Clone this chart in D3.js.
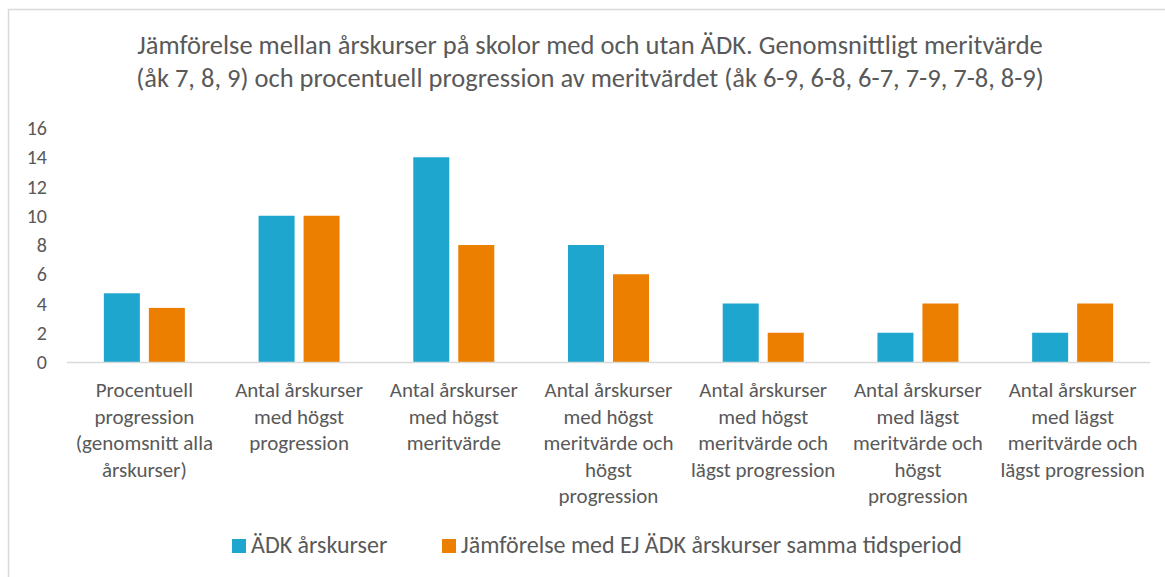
<!DOCTYPE html>
<html>
<head>
<meta charset="utf-8">
<script src="https://cdn.jsdelivr.net/npm/d3@7"></script>
<style>
  body { margin: 0; background: #fff; }
  svg text { font-family: Carlito, Calibri, "Liberation Sans", sans-serif; fill: #595959; }
</style>
</head>
<body>
<svg id="chart" width="1165" height="577"></svg>
<script>
// data
const categories = [
  ["Procentuell", "progression", "(genomsnitt alla", "årskurser)"],
  ["Antal årskurser", "med högst", "progression"],
  ["Antal årskurser", "med högst", "meritvärde"],
  ["Antal årskurser", "med högst", "meritvärde och", "högst", "progression"],
  ["Antal årskurser", "med högst", "meritvärde och", "lägst progression"],
  ["Antal årskurser", "med lägst", "meritvärde och", "högst", "progression"],
  ["Antal årskurser", "med lägst", "meritvärde och", "lägst progression"]
];
const seriesNames = ["ÄDK årskurser", "Jämförelse med EJ ÄDK årskurser samma tidsperiod"];
const adkValues = [4.7, 10, 14, 8, 4, 2, 2];
const ejAdkValues = [3.7, 10, 8, 6, 2, 4, 4];
const yTicks = [0, 2, 4, 6, 8, 10, 12, 14, 16];
const titleLines = [
  "Jämförelse mellan årskurser på skolor med och utan ÄDK. Genomsnittligt meritvärde",
  "(åk 7, 8, 9) och procentuell progression av meritvärdet (åk 6-9, 6-8, 6-7, 7-9, 7-8, 8-9)"
];

const colors = ["#1fa6cf", "#ed7f00"];
const svg = d3.select("#chart");

// chart area border (only top and left visible in the crop)
svg.append("path")
  .attr("d", "M8.5,577V9.5H1165")
  .attr("fill", "none").attr("stroke", "#d9d9d9").attr("stroke-width", 1.5);

const plotLeft = 67, plotRight = 1150, plotTop = 128, plotBottom = 362;

const x = d3.scaleBand()
  .domain(d3.range(categories.length))
  .range([plotLeft, plotRight]);

const x1 = d3.scaleBand()
  .domain([0, 1])
  .range([0, 81])
  .paddingInner(0.2);

const y = d3.scaleLinear().domain([0, 16]).range([plotBottom, plotTop]);

// title
svg.append("g").selectAll("text")
  .data(titleLines)
  .join("text")
  .attr("x", 590)
  .attr("y", (d, i) => 54 + i * 33)
  .attr("text-anchor", "middle")
  .style("font-size", "26.5px")
  .text(d => d);

// y axis labels
svg.append("g").selectAll("text")
  .data(yTicks)
  .join("text")
  .attr("x", 47)
  .attr("y", d => y(d) + 7)
  .attr("text-anchor", "end")
  .style("font-size", "20px")
  .text(d => d);

// bars
const groups = svg.append("g").selectAll("g")
  .data(categories.map((c, i) => [adkValues[i], ejAdkValues[i]]))
  .join("g")
  .attr("transform", (d, i) => `translate(${x(i) + (x.bandwidth() - 81) / 2},0)`);

groups.selectAll("rect")
  .data(d => d)
  .join("rect")
  .attr("x", (d, j) => x1(j))
  .attr("width", x1.bandwidth())
  .attr("y", d => y(d))
  .attr("height", d => plotBottom - y(d))
  .attr("fill", (d, j) => colors[j]);

// baseline
svg.append("line")
  .attr("x1", plotLeft).attr("x2", plotRight)
  .attr("y1", plotBottom + 0.5).attr("y2", plotBottom + 0.5)
  .attr("stroke", "#d9d9d9").attr("stroke-width", 1.5);

// category labels
svg.append("g").selectAll("text")
  .data(categories)
  .join("text")
  .attr("text-anchor", "middle")
  .style("font-size", "21px")
  .each(function(lines, i) {
    d3.select(this).selectAll("tspan")
      .data(lines)
      .join("tspan")
      .attr("x", x(i) + x.bandwidth() / 2)
      .attr("y", (l, k) => 397 + k * 26.5)
      .text(l => l);
  });

// legend
const legend = svg.append("g");
const legendX = [232, 442];
seriesNames.forEach((name, j) => {
  legend.append("rect")
    .attr("x", legendX[j]).attr("y", 539)
    .attr("width", 14).attr("height", 14)
    .attr("fill", colors[j]);
  legend.append("text")
    .attr("x", legendX[j] + 19).attr("y", 553)
    .style("font-size", "24px")
    .text(name);
});
</script>
</body>
</html>
